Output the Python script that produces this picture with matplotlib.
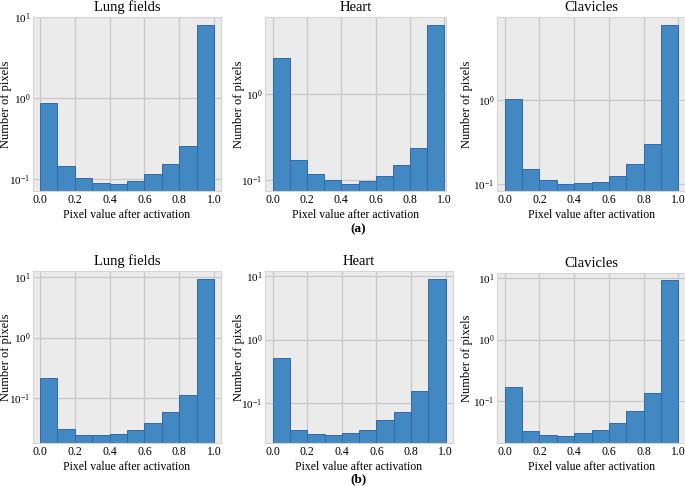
import matplotlib
matplotlib.use("Agg")
import matplotlib.pyplot as plt
import numpy as np

plt.rcParams["font.family"] = ["Liberation Serif", "DejaVu Serif"]
plt.rcParams["mathtext.fontset"] = "stix"
plt.rcParams["axes.unicode_minus"] = False

bin_edges = [0.0, 0.1, 0.2, 0.3, 0.4, 0.5, 0.6, 0.7, 0.8, 0.9]
titles = ["Lung fields", "Heart", "Clavicles"]

# (a) density of pixel values per structure
lung_a = [0.88, 0.145, 0.104, 0.090, 0.088, 0.094, 0.116, 0.152, 0.259, 8.0]
heart_a = [2.66, 0.170, 0.117, 0.100, 0.091, 0.097, 0.113, 0.152, 0.238, 6.4]
clav_a = [1.04, 0.151, 0.112, 0.100, 0.103, 0.106, 0.125, 0.172, 0.294, 7.8]

# (b)
lung_b = [0.214, 0.0313, 0.0246, 0.0246, 0.0255, 0.0301, 0.0387, 0.0588, 0.112, 9.16]
heart_b = [0.522, 0.0382, 0.0327, 0.0311, 0.0343, 0.0382, 0.0535, 0.0731, 0.156, 8.97]
clav_b = [0.173, 0.0328, 0.0283, 0.0269, 0.0308, 0.0336, 0.0448, 0.0698, 0.135, 9.4]

ylims_a = [(0.0716, 10.0), (0.075, 7.9), (0.0817, 9.8)]
ylims_b = [(0.0181, 12.6), (0.0236, 12.0), (0.021, 12.0)]

W, H = 685, 486
fig = plt.figure(figsize=(W / 100, H / 100), dpi=100)


def px_axes(x0, y0, x1, y1):
    return fig.add_axes([x0 / W, 1 - y1 / H, (x1 - x0) / W, (y1 - y0) / H])


def draw_hist(ax, heights, title, ylim, xlim, label_x):
    ax.set_facecolor("#ebebeb")
    ax.bar(bin_edges, heights, width=0.1, align="edge",
           color="#4289c3", edgecolor="#3468a8", linewidth=0.7, zorder=2)
    ax.set_yscale("log")
    ax.set_ylim(*ylim)
    ax.set_xlim(*xlim)
    ax.set_xticks([0.0, 0.2, 0.4, 0.6, 0.8, 1.0])
    ax.set_xticklabels(["0.0", "0.2", "0.4", "0.6", "0.8", "1.0"])
    ax.grid(True, color="#c8c8c8", linewidth=0.9, zorder=0)
    ax.set_axisbelow(True)
    ax.tick_params(axis="x", which="both", length=0, labelsize=8.5, pad=2)
    ax.tick_params(axis="y", which="both", length=0, labelsize=8, pad=2)
    ax.minorticks_off()
    for s in ax.spines.values():
        s.set_color("#d4d4d4")
        s.set_linewidth(0.8)
    ax.set_title(title, fontsize=10.5, pad=4)
    ax.set_xlabel("Pixel value after activation", fontsize=8.5, labelpad=2)
    ax.set_ylabel("Number of pixels", fontsize=9)
    # right edge of the rotated y label at the reference pixel column
    x0 = ax.get_position().x0 * W
    w = ax.get_position().width * W
    ax.yaxis.set_label_coords((label_x - x0) / w, 0.5)


top_boxes = [(33, 17, 221, 191), (265, 17, 446, 191), (497, 17, 686, 191)]
bot_boxes = [(33, 271, 221, 443), (265, 271, 453, 443), (497, 273, 686, 443)]
top_xlims = [(-0.04, 1.04), (-0.045, 1.01), (-0.044, 1.044)]
bot_xlims = [(-0.04, 1.04), (-0.044, 1.042), (-0.044, 1.044)]
label_cols = [12, 245, 473]

for box, h, t, yl, xl, lx in zip(top_boxes, [lung_a, heart_a, clav_a], titles, ylims_a, top_xlims, label_cols):
    draw_hist(px_axes(*box), h, t, yl, xl, lx)

for box, h, t, yl, xl, lx in zip(bot_boxes, [lung_b, heart_b, clav_b], titles, ylims_b, bot_xlims, label_cols):
    draw_hist(px_axes(*box), h, t, yl, xl, lx)

fig.text(358 / W, 1 - 229 / H, "(a)", ha="center", va="center", fontsize=9.5, fontweight="bold")
fig.text(358 / W, 1 - 479 / H, "(b)", ha="center", va="center", fontsize=9.5, fontweight="bold")

fig.savefig("out.png", dpi=100)
